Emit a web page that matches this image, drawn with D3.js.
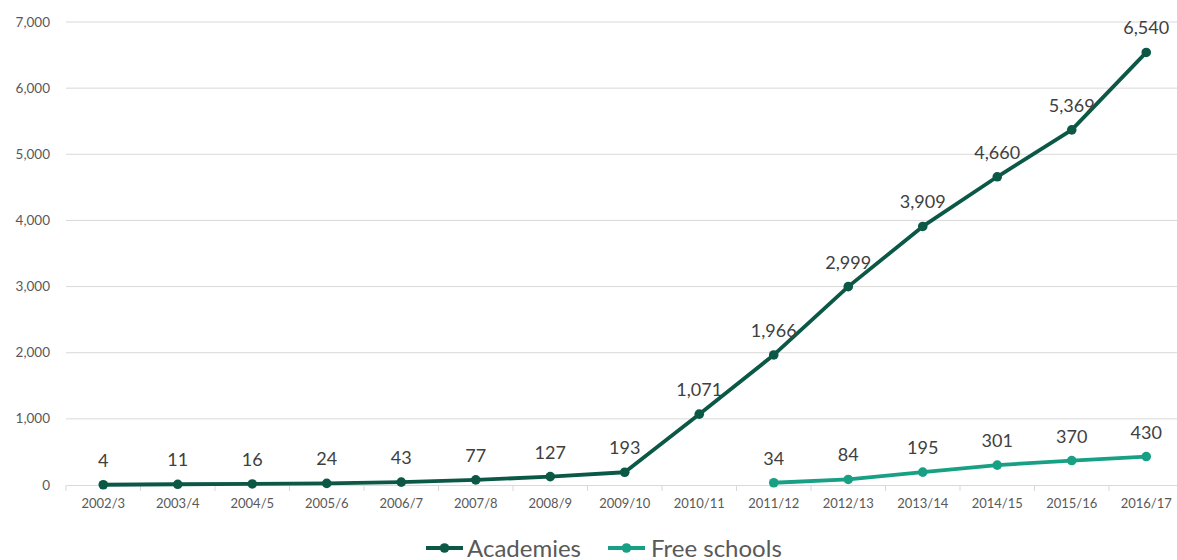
<!DOCTYPE html>
<html><head><meta charset="utf-8">
<script src="https://cdn.jsdelivr.net/npm/d3@7"></script>
<style>body{margin:0;background:#fff;} svg{display:block;font-family:Lato,"Open Sans",sans-serif;}</style>
</head><body>
<svg id="c" width="1177" height="560"></svg>
<script>
const categories = ["2002/3","2003/4","2004/5","2005/6","2006/7","2007/8","2008/9","2009/10","2010/11","2011/12","2012/13","2013/14","2014/15","2015/16","2016/17"];
const academies = [4,11,16,24,43,77,127,193,1071,1966,2999,3909,4660,5369,6540];
const freeSchools = [null,null,null,null,null,null,null,null,null,34,84,195,301,370,430];
const yTicks = [0,1000,2000,3000,4000,5000,6000,7000];
const seriesNames = ["Academies","Free schools"];
const colors = ["#0b5846","#17a084"];

const svg = d3.select("#c");
const x = d3.scaleBand().domain(categories).range([66, 1183.5]);
const y = d3.scaleLinear().domain([0,7000]).range([485, 22]);
const fmt = d3.format(",");

// gridlines
svg.append("g").selectAll("line").data(yTicks.slice(1)).join("line")
  .attr("x1",66).attr("x2",1177).attr("y1",d=>y(d)).attr("y2",d=>y(d))
  .attr("stroke","#d9d9d9").attr("stroke-width",1);

// y labels
svg.append("g").selectAll("text").data(yTicks).join("text")
  .attr("x",50).attr("y",d=>y(d)+4.5).attr("text-anchor","end")
  .attr("font-size",13.5).attr("fill","#595959").text(d=>fmt(d));

// x axis
const xa = svg.append("g").attr("transform","translate(0,485)")
  .call(d3.axisBottom(x).tickSize(0).tickPadding(14));
xa.select(".domain").attr("stroke","#d9d9d9");
xa.selectAll("text").attr("font-size",13).attr("fill","#595959").attr("font-family","Lato,sans-serif");
svg.append("g").selectAll("line").data(d3.range(categories.length+1)).join("line")
  .attr("x1",i=>x.range()[0]+i*x.step()).attr("x2",i=>x.range()[0]+i*x.step())
  .attr("y1",485).attr("y2",491).attr("stroke","#d9d9d9");

const cx = c => x(c)+x.bandwidth()/2;
[academies, freeSchools].forEach((vals,si)=>{
  const pts = categories.map((c,i)=>({c,v:vals[i]})).filter(d=>d.v!=null);
  const line = d3.line().x(d=>cx(d.c)).y(d=>y(d.v));
  svg.append("path").datum(pts).attr("d",line).attr("fill","none")
    .attr("stroke",colors[si]).attr("stroke-width",3.8).attr("stroke-linejoin","round");
  svg.append("g").selectAll("circle").data(pts).join("circle")
    .attr("cx",d=>cx(d.c)).attr("cy",d=>y(d.v)).attr("r",4.8).attr("fill",colors[si]);
  svg.append("g").selectAll("text").data(pts).join("text")
    .attr("x",d=>cx(d.c)).attr("y",d=>y(d.v)-18).attr("text-anchor","middle")
    .attr("font-size",18).attr("fill","#404040").text(d=>fmt(d.v));
});

// legend
const leg = [{x:426,tx:467},{x:608,tx:651}];
seriesNames.forEach((n,i)=>{
  const g = svg.append("g");
  g.append("line").attr("x1",leg[i].x).attr("x2",leg[i].x+37).attr("y1",548).attr("y2",548)
    .attr("stroke",colors[i]).attr("stroke-width",3.8);
  g.append("circle").attr("cx",leg[i].x+18.5).attr("cy",548).attr("r",4.8).attr("fill",colors[i]);
  g.append("text").attr("x",leg[i].tx).attr("y",556.5).attr("font-size",24).attr("fill","#595959").text(n);
});
</script>
</body></html>
